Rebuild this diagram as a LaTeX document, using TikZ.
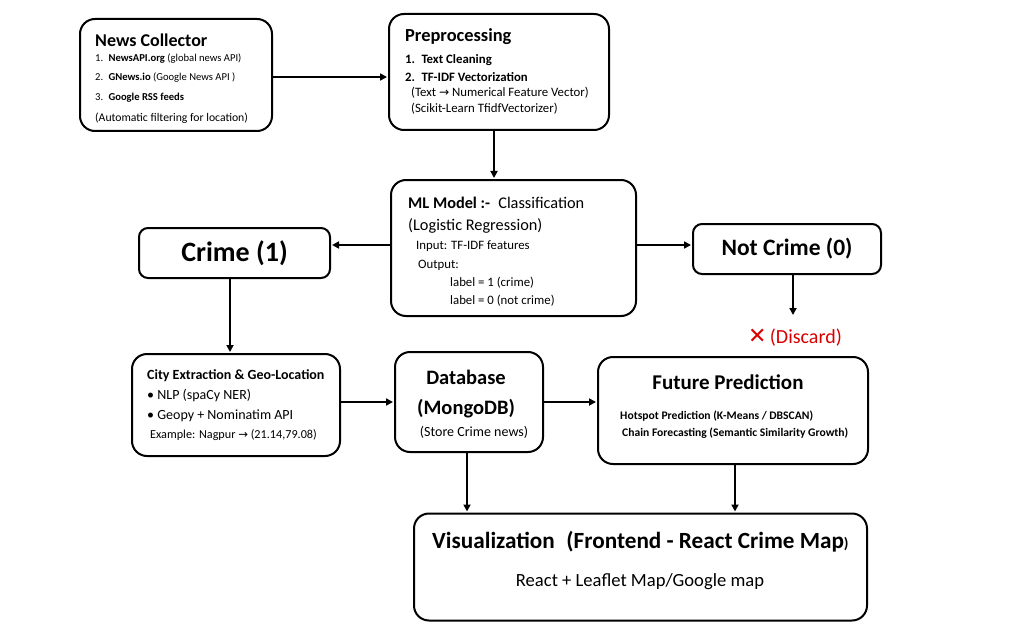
\documentclass[tikz,border=0pt]{standalone}
\usepackage{fontspec}
\setmainfont{Carlito}
\newfontfamily\symf{DejaVu Sans}
\usetikzlibrary{arrows.meta}
\newcommand{\fs}[1]{\fontsize{#1}{#1}\selectfont}
\newcommand{\ar}{{\symf\fontsize{0.95em}{1em}\selectfont →}}
\begin{document}
\begin{tikzpicture}[x=1pt,y=-1pt,
  box/.style={draw, line width=2pt, rounded corners=15pt, inner sep=0pt},
  sbox/.style={draw, line width=2pt, rounded corners=9pt, inner sep=0pt},
  txt/.style={inner sep=0pt, anchor=west},
  ctxt/.style={inner sep=0pt, anchor=center},
  arr/.style={line width=1.7pt, -{Triangle[length=7pt,width=7pt]}, shorten >=1pt}]
\useasboundingbox (0,0) rectangle (1032,631);
% boxes
\node[box, minimum width=192, minimum height=112] (news) at (176,75) {};
\node[box, minimum width=220, minimum height=116] (prep) at (499,72) {};
\node[box, minimum width=245, minimum height=136] (ml) at (513.5,248) {};
\node[sbox, minimum width=191, minimum height=50] (crime) at (234.5,253) {};
\node[sbox, minimum width=188, minimum height=50] (notcrime) at (787,249) {};
\node[box, minimum width=208, minimum height=102] (city) at (236,405) {};
\node[box, minimum width=148, minimum height=100] (db) at (469,402) {};
\node[box, minimum width=270, minimum height=107] (fut) at (733,410.5) {};
\node[box, minimum width=453, minimum height=107] (vis) at (640.5,567) {};
% news collector
\node[txt] (n0) at (95,40) {\fs{18}\bfseries News Collector};
\node[txt] (n1) at (95,59) {\fs{10.6}1.\enspace\textbf{NewsAPI.org} (global news API)};
\node[txt] (n2) at (95,78) {\fs{10.6}2.\enspace\textbf{GNews.io} (Google News API )};
\node[txt] (n3) at (95,98) {\fs{10.6}3.\enspace\textbf{Google RSS feeds}};
\node[txt] (n4) at (95,118) {\fs{11.7}(Automatic filtering for location)};
% preprocessing
\node[txt] (p0) at (405,37) {\fs{18.4}\bfseries Preprocessing};
\node[txt] (p1) at (405,60) {\fs{12.8}\bfseries 1.\enspace Text Cleaning};
\node[txt] (p2) at (405,77) {\fs{12.8}\bfseries 2.\enspace TF-IDF Vectorization};
\node[txt] (p3) at (411,93) {\fs{12.8}(Text \ar{} Numerical Feature Vector)};
\node[txt] (p4) at (411,109) {\fs{12.8}(Scikit-Learn TfidfVectorizer)};
% ML model
\node[txt] (m0) at (408,203) {\fs{16.3}\textbf{ML Model :-}\enspace Classification};
\node[txt] (m1) at (408,226) {\fs{16.3}(Logistic Regression)};
\node[txt] (m2) at (416,246) {\fs{12.8}Input: TF-IDF features};
\node[txt] (m3) at (418,265) {\fs{12.8}Output:};
\node[txt] (m4) at (450,283) {\fs{12.8}label = 1 (crime)};
\node[txt] (m5) at (450,301) {\fs{12.8}label = 0 (not crime)};
% crime / not crime
\node[ctxt] (c0) at (crime) {\fs{28}\bfseries Crime (1)};
\node[ctxt] (nc0) at (notcrime) {\fs{23.5}\bfseries Not Crime (0)};
\node[ctxt, text=red!85!black] (discard) at (795,338) {\fs{20}{\symf\bfseries\fontsize{22}{22}\selectfont ✕}\,(Discard)};
\coordinate (dend) at (793,316);
% city
\node[txt] (ci0) at (147,376) {\fs{14}\bfseries City Extraction \& Geo-Location};
\node[txt] (ci1) at (147,396) {\fs{14}\textbullet\ NLP (spaCy NER)};
\node[txt] (ci2) at (147,416) {\fs{14}\textbullet\ Geopy + Nominatim API};
\node[txt] (ci3) at (150,435) {\fs{12.2}Example: Nagpur \ar{} (21.14,79.08)};
% database
\node[ctxt] (d0) at (466,377) {\fs{20.5}\bfseries Database};
\node[ctxt] (d1) at (466,409) {\fs{20.5}\bfseries (MongoDB)};
\node[ctxt] (d2) at (474,432) {\fs{14}(Store Crime news)};
% future prediction
\node[ctxt] (f0) at (728,382) {\fs{21}\bfseries Future Prediction};
\node[txt] (f1) at (620,416) {\fs{11.6}\bfseries Hotspot Prediction (K-Means / DBSCAN)};
\node[txt] (f2) at (622,433) {\fs{11.6}\bfseries Chain Forecasting (Semantic Similarity Growth)};
% visualization
\node[txt] (v0) at (432,542) {\fs{23.2}\bfseries Visualization\enspace(Frontend - React Crime Map{\fs{15})}};
\node[ctxt] (v1) at (640,582) {\fs{18.6}React + Leaflet Map/Google map};
% connectors
\draw[arr] ([yshift=-2pt]news.east) -- ([yshift=-2pt]news.east -| prep.west);
\draw[arr] ([xshift=-5pt]prep.south) -- ([xshift=-5pt]prep.south |- ml.north);
\draw[arr] ([yshift=3pt]ml.west) -- ([yshift=3pt]ml.west -| crime.east);
\draw[arr] ([yshift=3pt]ml.east) -- ([yshift=3pt]ml.east -| notcrime.west);
\draw[arr] ([xshift=-4.5pt]crime.south) -- ([xshift=-4.5pt]crime.south |- city.north);
\draw[arr] ([xshift=6pt]notcrime.south) -- (dend);
\draw[arr] (db.west -| city.east) -- (db.west);
\draw[arr] (db.east) -- (db.east -| fut.west);
\draw[arr] ([xshift=-2pt]db.south) -- ([xshift=-2pt]db.south |- vis.north);
\draw[arr] ([xshift=2pt]fut.south) -- ([xshift=2pt]fut.south |- vis.north);
\end{tikzpicture}
\end{document}
